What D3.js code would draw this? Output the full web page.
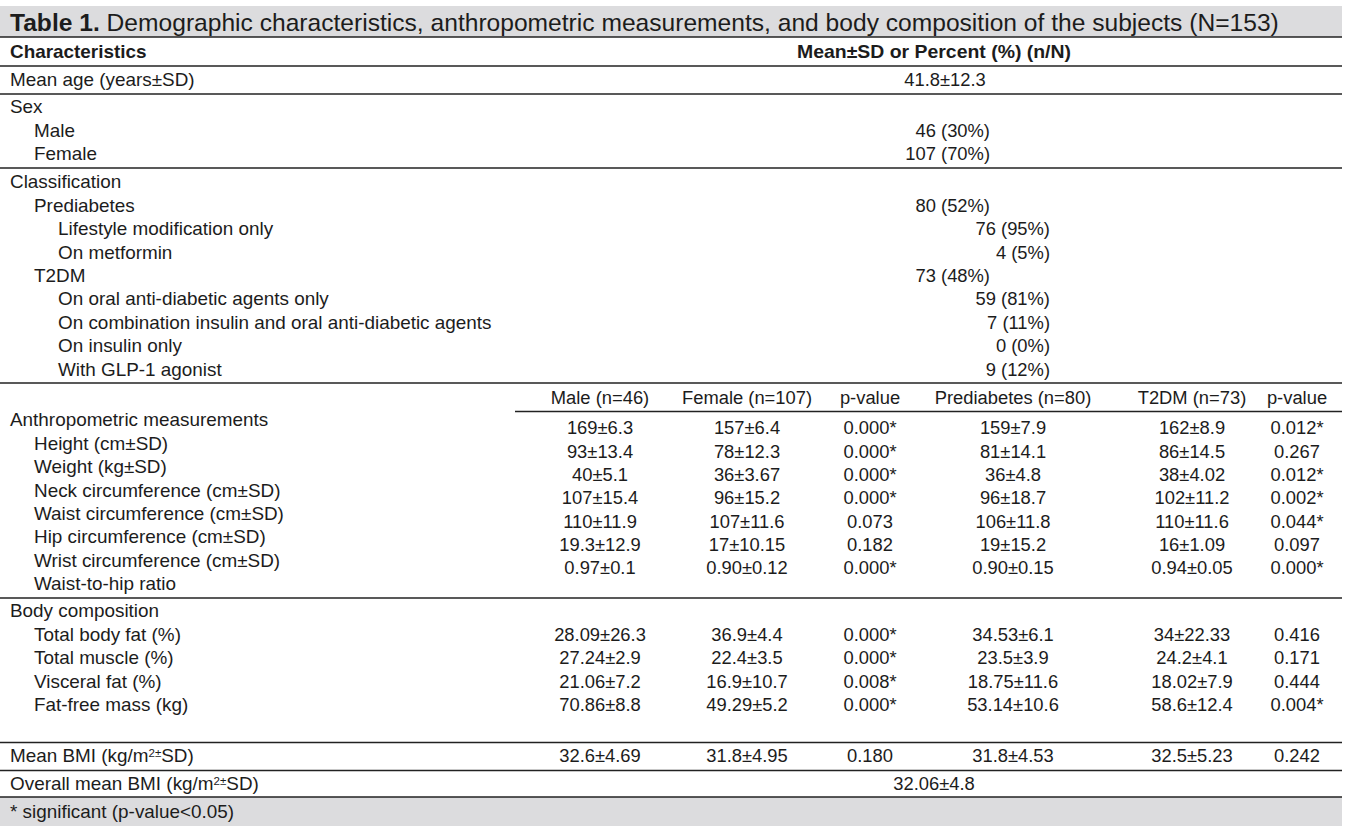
<!DOCTYPE html>
<html>
<head>
<meta charset="utf-8">
<script src="https://cdn.jsdelivr.net/npm/d3@7"></script>
<style>
  body { margin: 0; background: #fff; }
  svg text { font-family: "Liberation Sans", Arial, sans-serif; fill: #1c1c1c; }
</style>
</head>
<body>
<div id="chart"></div>
<script>
// ---- data ----
const titleBold = 'Table 1.';
const titleRest = ' Demographic characteristics, anthropometric measurements, and body composition of the subjects (N=153)';
const headerLeft = 'Characteristics';
const headerRight = 'Mean±SD or Percent (%) (n/N)';

const ageLabel = 'Mean age (years±SD)';
const ageValue = '41.8±12.3';

// [label, indent level, value]
const sexRows = [
  ['Sex', 0, ''],
  ['Male', 1, '46 (30%)'],
  ['Female', 1, '107 (70%)']
];
const classRows = [
  ['Classification', 0, ''],
  ['Prediabetes', 1, '80 (52%)'],
  ['Lifestyle modification only', 2, '76 (95%)'],
  ['On metformin', 2, '4 (5%)'],
  ['T2DM', 1, '73 (48%)'],
  ['On oral anti-diabetic agents only', 2, '59 (81%)'],
  ['On combination insulin and oral anti-diabetic agents', 2, '7 (11%)'],
  ['On insulin only', 2, '0 (0%)'],
  ['With GLP-1 agonist', 2, '9 (12%)']
];

const groupHeaders = ['Male (n=46)', 'Female (n=107)', 'p-value', 'Prediabetes (n=80)', 'T2DM (n=73)', 'p-value'];

const anthroLabels = [
  ['Anthropometric measurements', 0],
  ['Height (cm±SD)', 1],
  ['Weight (kg±SD)', 1],
  ['Neck circumference (cm±SD)', 1],
  ['Waist circumference (cm±SD)', 1],
  ['Hip circumference (cm±SD)', 1],
  ['Wrist circumference (cm±SD)', 1],
  ['Waist-to-hip ratio', 1]
];
const anthroValues = [
  ['169±6.3', '157±6.4', '0.000*', '159±7.9', '162±8.9', '0.012*'],
  ['93±13.4', '78±12.3', '0.000*', '81±14.1', '86±14.5', '0.267'],
  ['40±5.1', '36±3.67', '0.000*', '36±4.8', '38±4.02', '0.012*'],
  ['107±15.4', '96±15.2', '0.000*', '96±18.7', '102±11.2', '0.002*'],
  ['110±11.9', '107±11.6', '0.073', '106±11.8', '110±11.6', '0.044*'],
  ['19.3±12.9', '17±10.15', '0.182', '19±15.2', '16±1.09', '0.097'],
  ['0.97±0.1', '0.90±0.12', '0.000*', '0.90±0.15', '0.94±0.05', '0.000*']
];

const bodyLabels = [
  ['Body composition', 0],
  ['Total body fat (%)', 1],
  ['Total muscle (%)', 1],
  ['Visceral fat (%)', 1],
  ['Fat-free mass (kg)', 1]
];
const bodyValues = [
  ['28.09±26.3', '36.9±4.4', '0.000*', '34.53±6.1', '34±22.33', '0.416'],
  ['27.24±2.9', '22.4±3.5', '0.000*', '23.5±3.9', '24.2±4.1', '0.171'],
  ['21.06±7.2', '16.9±10.7', '0.008*', '18.75±11.6', '18.02±7.9', '0.444'],
  ['70.86±8.8', '49.29±5.2', '0.000*', '53.14±10.6', '58.6±12.4', '0.004*']
];

const bmiValues = ['32.6±4.69', '31.8±4.95', '0.180', '31.8±4.53', '32.5±5.23', '0.242'];
const overallBmi = '32.06±4.8';
const footnote = '* significant (p-value<0.05)';

// ---- layout ----
const W = 1350, H = 838;
const left = 0, right = 1342;
const fs = 18;
const labStretch = 1.05, valStretch = 1.02;

const svg = d3.select('#chart').append('svg')
  .attr('width', W).attr('height', H);

const indentX = d3.scaleLinear().domain([0, 1]).range([10, 34]);
const colX = d3.scaleOrdinal().domain(d3.range(6)).range([600, 747, 870, 1013, 1192, 1297]);
const midX = 934;

function hline(y, x0 = left, x1 = right) {
  svg.append('line').attr('x1', x0).attr('x2', x1).attr('y1', y).attr('y2', y)
    .attr('stroke', '#222').attr('stroke-width', 1.4);
}
function band(y0, y1) {
  svg.append('rect').attr('x', left).attr('y', y0).attr('width', right - left).attr('height', y1 - y0)
    .attr('fill', '#dcdcde');
}
// text placed by transform so it can be squeezed/stretched a little like the source
function txt(x, y, s, anchor = 'start', weight = 'normal', sx = labStretch) {
  return svg.append('text')
    .attr('transform', `translate(${x},${y}) scale(${sx},1)`)
    .attr('dy', '0.35em')
    .attr('text-anchor', anchor).attr('font-weight', weight).attr('font-size', fs).text(s);
}
function val(x, y, s, anchor = 'middle') {
  return txt(x, y, s, anchor, 'normal', valStretch);
}
function withSup(t, tail) {
  t.append('tspan').attr('font-size', 11).attr('dy', -5).text('2±');
  t.append('tspan').attr('dy', 5).text(tail);
}

// title band
band(6, 37);
const title = svg.append('text').attr('x', 10).attr('y', 22).attr('dy', '0.36em').attr('font-size', 24.6);
title.append('tspan').attr('font-weight', 'bold').text(titleBold);
title.append('tspan').text(titleRest);
hline(37);

// header
txt(10, 52, headerLeft, 'start', 'bold');
txt(midX, 52, headerRight, 'middle', 'bold', 1.08);
hline(66);

// age
txt(10, 80, ageLabel);
val(midX + 11, 80, ageValue);
hline(94);

// demographic blocks
const valRight = d3.scaleOrdinal().domain([0, 1, 2]).range([990, 990, 1050]);
function demoBlock(rows, y0, step) {
  const y = d3.scaleLinear().domain([0, 1]).range([y0, y0 + step]);
  rows.forEach((d, i) => {
    txt(indentX(d[1]), y(i), d[0]);
    if (d[2]) val(valRight(d[1]), y(i), d[2], 'end');
  });
}
demoBlock(sexRows, 107, 23.5);
hline(168);
demoBlock(classRows, 182, 23.4);
hline(383);

// group headers
groupHeaders.forEach((h, j) => val(colX(j), 398, h));
hline(411.5, 515, right);

// anthropometric
const yAnthroLab = d3.scaleLinear().domain([0, 1]).range([420, 443.4]);
anthroLabels.forEach((d, i) => txt(indentX(d[1]), yAnthroLab(i), d[0]));
const yAnthroVal = d3.scaleLinear().domain([0, 1]).range([428, 451.3]);
anthroValues.forEach((row, i) => row.forEach((v, j) => val(colX(j), yAnthroVal(i), v)));
hline(598);

// body composition
const yBody = d3.scaleLinear().domain([0, 1]).range([611, 634.5]);
bodyLabels.forEach((d, i) => txt(indentX(d[1]), yBody(i), d[0]));
bodyValues.forEach((row, i) => row.forEach((v, j) => val(colX(j), yBody(i + 1), v)));
hline(742.5);

// BMI
withSup(txt(10, 756, 'Mean BMI (kg/m'), 'SD)');
bmiValues.forEach((v, j) => val(colX(j), 756, v));
hline(770.5);

withSup(txt(10, 784, 'Overall mean BMI (kg/m'), 'SD)');
val(midX, 784, overallBmi);

// footnote
band(797, 826);
hline(797);
txt(10, 812, footnote);
</script>
</body>
</html>
